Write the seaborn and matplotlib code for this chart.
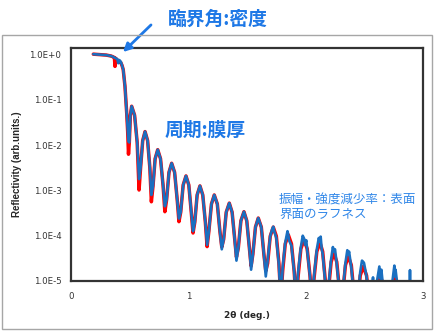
import numpy as np
import pandas as pd
import seaborn as sns
import matplotlib.pyplot as plt
from matplotlib.patches import Rectangle

angle = [0.19, 0.25, 0.30, 0.34, 0.36, 0.37, 0.375, 0.38, 0.395, 0.403, 0.412, 0.425, 0.435, 0.445,
         0.46, 0.475, 0.483, 0.49,
         0.497, 0.506, 0.517, 0.542, 0.564, 0.58,
         0.593, 0.611, 0.631, 0.653, 0.672, 0.685,
         0.699, 0.717, 0.739, 0.763, 0.785, 0.80,
         0.815, 0.835, 0.858, 0.883, 0.905, 0.92,
         0.935, 0.956, 0.98, 1.004, 1.025, 1.04,
         1.055, 1.075, 1.099, 1.123, 1.145, 1.16,
         1.175, 1.197, 1.221, 1.247, 1.269, 1.285,
         1.301, 1.323, 1.349, 1.373, 1.395, 1.41,
         1.426, 1.448, 1.474, 1.498, 1.52, 1.535,
         1.55, 1.572, 1.596, 1.622, 1.644, 1.66,
         1.676, 1.698, 1.724, 1.75, 1.772, 1.788,
         1.804, 1.826, 1.852, 1.879, 1.902, 1.919,
         1.936, 1.959, 1.986, 2.013, 2.037, 2.054,
         2.071, 2.095, 2.122, 2.145, 2.166, 2.18,
         2.195, 2.217, 2.241, 2.265, 2.287, 2.302,
         2.317, 2.339, 2.363, 2.389, 2.411, 2.427,
         2.443, 2.465, 2.491, 2.519, 2.544, 2.562,
         2.58, 2.605, 2.634, 2.659, 2.68, 2.697,
         2.713, 2.735, 2.761, 2.787, 2.809, 2.825,
         2.86, 2.93]

# log10 reflectivity, simulated curve (red)
fit_log = [0.01, 0.00, -0.01, -0.03, -0.05, -0.07, -0.26, -0.08, -0.12, -0.16, -0.15, -0.18, -0.24, -0.33,
           -0.70, -1.30, -1.70, -2.20,
           -1.94, -1.34, -1.14, -1.34, -1.94, -2.99,
           -2.50, -1.90, -1.70, -1.90, -2.50, -3.25,
           -2.90, -2.30, -2.10, -2.30, -2.90, -3.47,
           -3.20, -2.60, -2.40, -2.60, -3.20, -3.69,
           -3.48, -2.88, -2.68, -2.88, -3.48, -3.94,
           -3.70, -3.10, -2.90, -3.10, -3.70, -4.24,
           -3.90, -3.30, -3.10, -3.30, -3.90, -4.25,
           -4.08, -3.48, -3.28, -3.48, -4.08, -4.47,
           -4.27, -3.67, -3.47, -3.67, -4.27, -4.67,
           -4.41, -3.81, -3.61, -3.81, -4.41, -4.78,
           -4.61, -4.01, -3.81, -4.01, -4.61, -5.40,
           -4.78, -4.18, -3.98, -4.18, -4.78, -5.50,
           -4.89, -4.29, -4.09, -4.29, -4.89, -5.50,
           -4.95, -4.35, -4.15, -4.35, -4.95, -5.50,
           -5.18, -4.58, -4.38, -4.58, -5.18, -5.50,
           -5.25, -4.65, -4.45, -4.65, -5.25, -5.50,
           -5.48, -4.88, -4.68, -4.88, -5.48, -5.50,
           -5.50, -5.07, -4.87, -5.07, -5.50, -5.50,
           -5.50, -5.10, -4.90, -5.10, -5.50, -5.50,
           -5.50, -5.50]

# log10 reflectivity, measured curve (blue)
meas_log = [0.01, 0.00, -0.01, -0.03, -0.05, -0.07, -0.07, -0.08, -0.10, -0.19, -0.12, -0.16, -0.24, -0.33,
            -0.70, -1.30, -1.65, -1.92,
            -1.94, -1.34, -1.14, -1.34, -1.94, -2.75,
            -2.50, -1.90, -1.70, -1.90, -2.50, -3.10,
            -2.90, -2.30, -2.10, -2.30, -2.90, -3.35,
            -3.20, -2.60, -2.40, -2.60, -3.20, -3.62,
            -3.48, -2.88, -2.68, -2.88, -3.48, -3.90,
            -3.70, -3.10, -2.90, -3.10, -3.70, -4.20,
            -3.90, -3.30, -3.10, -3.30, -3.90, -4.30,
            -4.08, -3.48, -3.28, -3.48, -4.08, -4.55,
            -4.27, -3.67, -3.47, -3.67, -4.27, -4.75,
            -4.41, -3.81, -3.61, -3.81, -4.41, -4.90,
            -4.55, -4.01, -3.80, -4.05, -4.65, -5.50,
            -4.70, -4.15, -3.98, -4.22, -4.80, -5.50,
            -4.80, -4.25, -4.06, -4.32, -4.90, -5.50,
            -4.90, -4.30, -4.13, -4.40, -5.00, -5.50,
            -5.10, -4.52, -4.35, -4.62, -5.20, -5.50,
            -5.20, -4.60, -4.42, -4.70, -5.30, -5.50,
            -5.40, -4.80, -4.58, -4.90, -5.50, -5.50,
            -5.50, -5.05, -4.85, -5.10, -5.50, -5.50,
            -5.50, -5.10, -4.90, -5.20, -5.50, -5.50,
            -5.50, -5.50]

# noisy spikes of the measured curve at high angle
spike_x = [1.715, 1.732, 1.845, 1.858, 1.975, 1.995, 2.005, 2.112, 2.128, 2.136, 2.232, 2.25, 2.355,
           2.37, 2.48, 2.497, 2.574, 2.578, 2.628, 2.638, 2.645, 2.756, 2.766, 2.885, 2.889, 2.893]
spike_log = [-3.85, -3.90, -3.90, -4.10, -4.00, -4.20, -4.10, -4.05, -4.02, -4.28, -4.25, -4.30, -4.32,
             -4.35, -4.55, -4.60, -4.92, -5.50, -4.68, -4.95, -4.75, -4.66, -4.75, -5.50, -4.76, -5.50]

y_ticks = [1e0, 1e-1, 1e-2, 1e-3, 1e-4, 1e-5]
y_tick_labels = ['1.0E+0', '1.0E-1', '1.0E-2', '1.0E-3', '1.0E-4', '1.0E-5']
x_ticks = [0, 1, 2, 3]

W, H = 437, 331


def fx(px):
    return px / W


def fy(py):
    return 1 - py / H


sns.set_theme(style="white")
plt.rcParams['font.family'] = ['DejaVu Sans']
cjk = ['Noto Sans CJK JP', 'DejaVu Sans']

fit_df = pd.DataFrame({'two_theta': angle, 'R': 10 ** np.array(fit_log)})
meas_df = pd.concat([pd.DataFrame({'two_theta': angle, 'R': 10 ** np.array(meas_log)}),
                     pd.DataFrame({'two_theta': spike_x, 'R': 10 ** np.array(spike_log)})])
meas_df = meas_df.sort_values('two_theta')

fig = plt.figure(figsize=(W / 100, H / 100), dpi=100)
ax = fig.add_axes([fx(71), fy(281), fx(423) - fx(71), fy(48) - fy(281)])

sns.lineplot(data=fit_df, x='two_theta', y='R', color='#ff0000', lw=2.5, estimator=None, ax=ax)
sns.lineplot(data=meas_df, x='two_theta', y='R', color='#1a6fc0', lw=1.9, estimator=None, ax=ax)

ax.set_yscale('log')
ax.set_xlim(0, 3)
ax.set_ylim(1e-5, 1.4)
ax.set_yticks(y_ticks)
ax.set_yticklabels(y_tick_labels)
ax.minorticks_off()
ax.set_xticks(x_ticks)
ax.set_xticks([0.5, 1.5, 2.5], minor=True)
ax.tick_params(axis='both', which='both', direction='in', length=3, width=0.8, color='#999999',
               labelsize=6.2, labelcolor='#333333')
ax.tick_params(axis='x', pad=8)
ax.tick_params(axis='y', pad=7)
for s in ax.spines.values():
    s.set_color('#333333')
    s.set_linewidth(1.6)

ax.set_xlabel('2θ (deg.)', fontsize=6.4, fontweight='bold', labelpad=7)
ax.set_ylabel('Reflectivity (arb.units.)', fontsize=7, fontweight='bold', labelpad=5,
              family=['Liberation Sans', 'DejaVu Sans'])

# chart area border
fig.patches.append(Rectangle((fx(2), fy(329)), fx(430), 294 / H, transform=fig.transFigure,
                             fill=False, edgecolor='#a6a6a6', lw=1))

# annotations
fig.text(fx(218), fy(19), '臨界角:密度', color='#1e78e6', fontsize=13.5, fontweight='bold',
         ha='center', va='center', family=cjk)
ax.annotate('', xy=(fx(121), fy(54)), xycoords='figure fraction',
            xytext=(fx(153), fy(23)), textcoords='figure fraction',
            arrowprops=dict(arrowstyle='-|>', color='#1e78e6', lw=2, mutation_scale=12),
            annotation_clip=False)
fig.text(fx(205), fy(130), '周期:膜厚', color='#1e78e6', fontsize=13.5, fontweight='bold',
         ha='center', va='center', family=cjk)
fig.text(fx(279), fy(207), '振幅・強度減少率：表面\n界面のラフネス', color='#2f86e8', fontsize=9,
         ha='left', va='center', linespacing=1.15, family=cjk)

fig.savefig('out.png', dpi=100)
